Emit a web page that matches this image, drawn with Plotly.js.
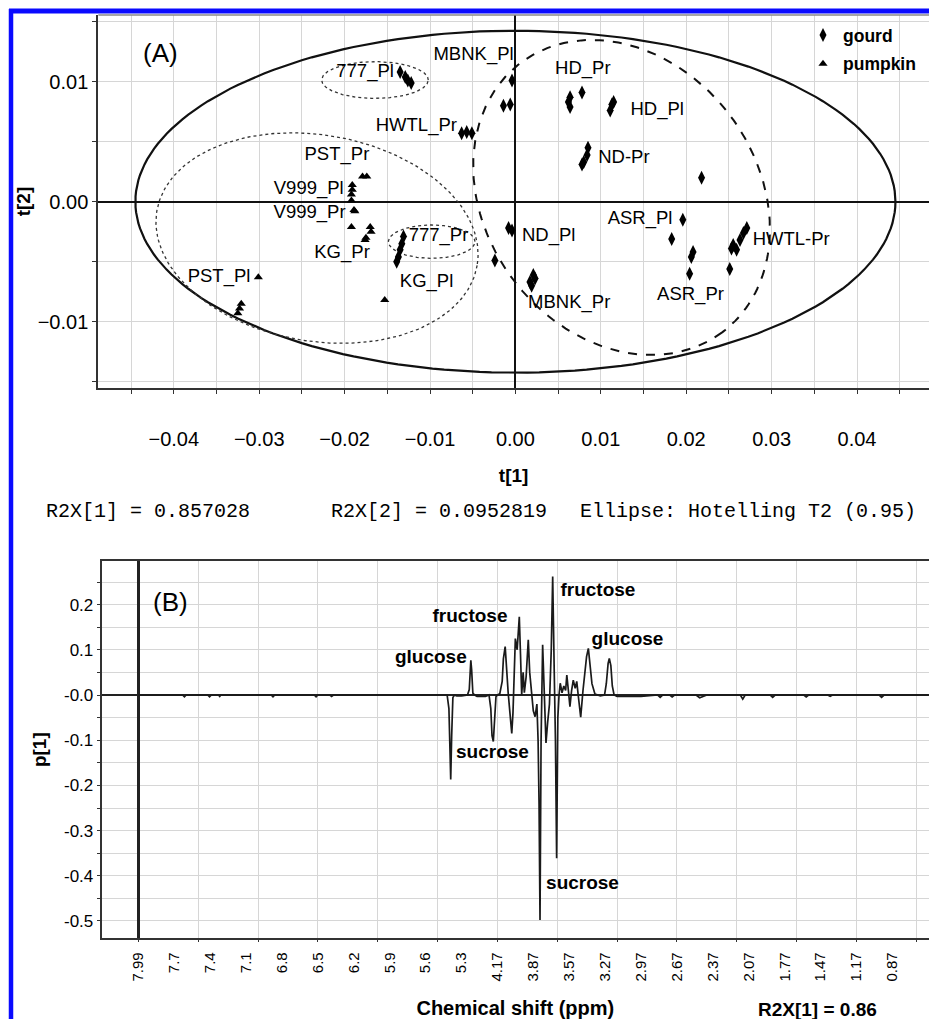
<!DOCTYPE html>
<html><head><meta charset="utf-8">
<script src="https://cdn.plot.ly/plotly-3.0.1.min.js"></script>
<style>html,body{margin:0;padding:0;background:#fff;} #chart{width:929px;height:1019px;}</style>
</head><body><div id="chart"></div>
<script>
const W = 929, H = 1019;
// ---------- Panel A: PCA scores ----------
const gourdT1 = [-0.0135,-0.0129,-0.0126,-0.0122, -0.0004,-0.0014,-0.0006, -0.0063,-0.0057,-0.0051,
  0.0064,0.0064,0.0078,0.0062, 0.0113,0.0115,0.0111, 0.0085,0.0084,0.0080,0.0078, 0.0218,
  -0.0008,-0.0004, -0.0024, 0.0021,0.0017,0.0023,0.0019, 0.0196, 0.0183, 0.0208,0.0206, 0.0204, 0.0251,
  0.0271,0.0267,0.0263,0.0255,0.0259,0.0253, -0.0131,-0.0133,-0.0135,-0.0137,-0.0139];
const gourdT2 = [0.0108,0.0104,0.0101,0.0099, 0.0101,0.0080,0.0081, 0.0057,0.0058,0.0057,
  0.0087,0.0079,0.0091,0.0083, 0.0081,0.0083,0.0076, 0.0045,0.0039,0.0033,0.0031, 0.0020,
  -0.0022,-0.0024, -0.0049, -0.0061,-0.0067,-0.0064,-0.0070, -0.0015, -0.0031, -0.0042,-0.0046, -0.0060, -0.0056,
  -0.0022,-0.0026,-0.0032,-0.0036,-0.0040,-0.0039, -0.0029,-0.0035,-0.0040,-0.0046,-0.0050];
const pumpkinT1 = [-0.0179,-0.0174, -0.0191,-0.0191,-0.0192,-0.0192, -0.0189,-0.0188, -0.0192,
  -0.0170,-0.0169,-0.0175,-0.0176, -0.0301,-0.0321,-0.0323,-0.0325, -0.0153];
const pumpkinT2 = [0.0021,0.0021, 0.0014,0.0010,0.0006,0.0001, -0.0007,-0.0008, -0.0021,
  -0.0021,-0.0025,-0.0030,-0.0032, -0.0063,-0.0085,-0.0089,-0.0093, -0.0082];
const sampleLabels = ['777_Pl','MBNK_Pl','HD_Pr','HD_Pl','HWTL_Pr','ND-Pr','PST_Pr','V999_Pl','V999_Pr',
  'KG_Pr','777_Pr','KG_Pl','PST_Pl','ND_Pl','MBNK_Pr','ASR_Pl','ASR_Pr','HWTL-Pr'];
const sampleLabelT1 = [-0.0176,-0.0049,0.0079,0.0166,-0.0116,0.0127,-0.0209,-0.0242,-0.0241,
  -0.0203,-0.0090,-0.0104,-0.0347,0.0039,0.0063,0.0146,0.0205,0.0323];
const sampleLabelT2 = [0.0108,0.0122,0.0110,0.0076,0.0063,0.0036,0.0039,0.0010,-0.0010,
  -0.0043,-0.0029,-0.0067,-0.0063,-0.0029,-0.0085,-0.0015,-0.0078,-0.0032];
// Confidence ellipses (centre and two semi-axis vectors, in score units)
const ellipseCX = [0, 0.01243, -0.02323, -0.01644, -0.0098];
const ellipseCY = [0, 0.00035, -0.00303, 0.01014, -0.00333];
const ellipseUX = [0.0445, 0.01178, 0.01875, 0.00624, 0.00507];
const ellipseUY = [0, -0.01124, -0.00228, 0, 0];
const ellipseVX = [0, -0.01277, -0.00204, 0, 0];
const ellipseVY = [0.01425, -0.00678, -0.00847, 0.00153, 0.00139];
const ellipseDash = ['solid','dash','dot','dot','dot'];
const ellipseWidth = [2.2, 2, 1.3, 1.3, 1.3];
const ellipseColor = ['#111','#111','#333','#333','#333'];
// ---------- Panel B: loadings p[1] ----------
const varIndex = [0,37,38.5,40,58,59.5,61,67,68,69,111,112.5,114,147,148.5,150,160,161.5,163,
  258,259.5,260.2,261,261.8,262.8,264,266,270,275,276.5,277.2,277.8,278.5,279.5,281,283,290,
  293,294.5,295.5,296.6,297.5,298.8,300,302,304,305,306.5,307.5,309,310.5,312,313,314,315,316.5,317.5,
  318.3,319.3,320.3,321.5,322.5,324,325.8,327,328.7,330,331.5,333,334,334.8,335.6,336.5,337.8,339,340.6,
  342,343.5,345,346.2,347.5,348.5,349.5,350.5,351.5,352.5,354,355.5,357,358,359.5,360.6,362,363.4,365,
  366.3,367.5,369.6,371.5,373,374.5,376,377.5,379,381.5,386,389.5,391,392.5,393.5,394.8,396,397.5,400,
  420,434,436,438,444,446,448,466,469,472,475,503,505,507,528,530,532,556,558,560,576,578,580,619,621,623,660];
const p1 = [0,0,-0.004,0,0,-0.004,0,0,-0.003,0,0,-0.004,0,0,-0.004,0,0,-0.003,0,
  0,-0.03,-0.095,-0.187,-0.09,-0.006,0,-0.002,-0.002,0,0.012,0.07,0.077,0.055,0.004,0,-0.003,-0.003,
  0,-0.03,-0.09,-0.103,-0.05,-0.004,0,0.003,0.03,0.08,0.107,0.06,0.005,-0.04,-0.085,-0.04,0.06,0.125,0.1,0.14,
  0.173,0.09,0.0,0.05,0.005,0.04,0.122,0.05,-0.011,-0.035,-0.048,-0.02,-0.1,-0.24,-0.498,-0.1,0.111,0.02,-0.106,
  -0.06,-0.02,0.1,0.262,0.05,-0.1,-0.361,-0.05,0.0,0.026,0.005,0.02,0.01,0.044,0.005,-0.026,0.01,0.033,0.015,
  0.03,0.0,-0.049,0.01,0.05,0.085,0.103,0.07,0.025,0.002,-0.002,0.0,0.025,0.07,0.081,0.065,0.02,0.0,-0.003,
  -0.003,0,-0.005,0,0,-0.004,0,0,-0.006,-0.003,0,0,-0.009,0,0,-0.005,0,0,-0.004,0,0,-0.003,0,0,-0.005,0,0];
const shiftTickIndex = [0,30,60,90,120,150,180,210,240,270,300,330,360,390,420,450,480,510,540,570,600,630];
const shiftTickText = ['7.99','7.7','7.4','7.1','6.8','6.5','6.2','5.9','5.6','5.3','4.17','3.87','3.57',
  '3.27','2.97','2.67','2.37','2.07','1.77','1.47','1.17','0.87'];
const p1TickVals = [0.2,0.1,0,-0.1,-0.2,-0.3,-0.4,-0.5];
const p1TickText = ['0.2','0.1','-0.0','-0.1','-0.2','-0.3','-0.4','-0.5'];
const peakLabels = ['glucose','fructose','sucrose','sucrose','fructose','glucose'];
const peakLabelIndex = [244.4,277.1,295.9,371.1,384.0,408.7];
const peakLabelP1 = [0.0812,0.173,-0.129,-0.418,0.2285,0.1217];

// ---------- helpers ----------
const px = v => v / W;           // page x pixel -> paper
const py = v => 1 - v / H;       // page y pixel -> paper
const FONT = 'Liberation Sans, Arial, sans-serif';
const MONO = 'Liberation Mono, Courier New, monospace';
const GRID = '#d6d6d6';
const INK = '#000';

function ellipseTrace(i) {
  const xs = [], ys = [];
  for (let k = 0; k <= 200; k++) {
    const t = 2 * Math.PI * k / 200;
    xs.push(ellipseCX[i] + ellipseUX[i] * Math.cos(t) + ellipseVX[i] * Math.sin(t));
    ys.push(ellipseCY[i] + ellipseUY[i] * Math.cos(t) + ellipseVY[i] * Math.sin(t));
  }
  return {x: xs, y: ys, xaxis: 'x', yaxis: 'y', mode: 'lines', showlegend: false, hoverinfo: 'skip',
    line: {color: ellipseColor[i], width: ellipseWidth[i], dash: ellipseDash[i]}};
}

const traces = [];
for (let i = 0; i < ellipseCX.length; i++) traces.push(ellipseTrace(i));
traces.push({x: gourdT1, y: gourdT2, name: 'gourd', xaxis: 'x', yaxis: 'y', mode: 'markers', legendgroup: 'g',
  marker: {symbol: 'diamond-tall', size: 10, color: '#000'}});
traces.push({x: pumpkinT1, y: pumpkinT2, name: 'pumpkin', xaxis: 'x', yaxis: 'y', mode: 'markers', legendgroup: 'p',
  marker: {symbol: 'triangle-up', size: 8, color: '#000'}});
traces.push({x: sampleLabelT1, y: sampleLabelT2, text: sampleLabels, xaxis: 'x', yaxis: 'y', mode: 'text',
  showlegend: false, hoverinfo: 'skip', textposition: 'middle center',
  textfont: {family: FONT, size: 18.5, color: INK}});
traces.push({x: varIndex, y: p1, xaxis: 'x2', yaxis: 'y2', mode: 'lines', showlegend: false,
  line: {color: '#1a1a1a', width: 1.7}});
traces.push({x: peakLabelIndex, y: peakLabelP1, text: peakLabels, xaxis: 'x2', yaxis: 'y2', mode: 'text',
  showlegend: false, hoverinfo: 'skip', textposition: 'middle center',
  textfont: {family: FONT, size: 19, color: INK, weight: 'bold'}});
// empty trace to carry the grid axis of panel B
traces.push({x: [0, 630], y: [null, null], xaxis: 'x3', yaxis: 'y2', mode: 'lines', showlegend: false, hoverinfo: 'skip'});

function note(text, x, y, font, xanchor) {
  return {text: text, xref: 'paper', yref: 'paper', x: px(x), y: py(y), showarrow: false,
    xanchor: xanchor || 'center', yanchor: 'middle', font: font};
}

const layout = {
  width: W, height: H, margin: {l: 0, r: 0, t: 0, b: 0},
  paper_bgcolor: '#fff', plot_bgcolor: '#fff',
  font: {family: FONT, color: INK},
  showlegend: true,
  legend: {x: px(803), y: py(17), xanchor: 'left', yanchor: 'top', bgcolor: 'rgba(0,0,0,0)',
    font: {family: FONT, size: 17.5, weight: 'bold', color: INK}, tracegroupgap: 3, traceorder: 'grouped'},
  xaxis: {domain: [px(98.3), 1], range: [-0.04884, 0.04843], anchor: 'y',
    dtick: 0.01, tick0: 0, tickformat: '.2f', ticks: 'outside', ticklen: 4, tickcolor: '#333',
    ticklabelstandoff: 28, tickfont: {family: FONT, size: 20, color: INK},
    showgrid: true, gridcolor: GRID, gridwidth: 1,
    minor: {dtick: 0.005, tick0: 0, showgrid: true, gridcolor: GRID, ticks: 'outside', ticklen: 4, tickcolor: '#333'},
    zeroline: true, zerolinecolor: '#111', zerolinewidth: 2,
    showline: true, linecolor: '#333', linewidth: 2,
    title: {text: 't[1]', font: {family: FONT, size: 19, weight: 'bold', color: INK}, standoff: 20}},
  yaxis: {domain: [py(388), py(15)], range: [-0.015525, 0.015558], anchor: 'x',
    dtick: 0.01, tick0: 0, tickformat: '.2f', ticks: 'outside', ticklen: 4, tickcolor: '#333',
    tickfont: {family: FONT, size: 20, color: INK},
    showgrid: true, gridcolor: GRID, gridwidth: 1,
    minor: {dtick: 0.005, tick0: 0, showgrid: true, gridcolor: GRID, ticks: 'outside', ticklen: 4, tickcolor: '#333'},
    zeroline: true, zerolinecolor: '#111', zerolinewidth: 2,
    showline: true, linecolor: '#333', linewidth: 2,
    title: {text: 't[2]', font: {family: FONT, size: 19, weight: 'bold', color: INK}, standoff: 2}},
  xaxis2: {domain: [px(101.7), 1], range: [-30.6, 660.6], anchor: 'y2',
    tickmode: 'array', tickvals: shiftTickIndex, ticktext: shiftTickText, tickangle: -90,
    ticks: '', ticklabelstandoff: 6, tickfont: {family: FONT, size: 15, color: INK},
    showgrid: false, zeroline: true, zerolinecolor: '#222', zerolinewidth: 2.5,
    showline: true, linecolor: '#333', linewidth: 2, mirror: true,
    title: {text: 'Chemical shift (ppm)', font: {family: FONT, size: 20, weight: 'bold', color: INK}, standoff: 22}},
  xaxis3: {overlaying: 'x2', anchor: 'y2', side: 'bottom', range: [-30.6, 660.6],
    tickmode: 'linear', tick0: 0, dtick: 50, showticklabels: false, ticks: 'outside', ticklen: 3, tickcolor: '#333',
    showgrid: true, gridcolor: GRID, gridwidth: 1, zeroline: false, showline: false},
  yaxis2: {domain: [py(938.3), py(561)], range: [-0.5383, 0.2965], anchor: 'x2',
    tickmode: 'array', tickvals: p1TickVals, ticktext: p1TickText, ticks: 'outside', ticklen: 3, tickcolor: '#333',
    tickfont: {family: FONT, size: 17, color: INK},
    showgrid: true, gridcolor: GRID, gridwidth: 1,
    minor: {dtick: 0.05, tick0: 0, showgrid: true, gridcolor: GRID, ticks: 'outside', ticklen: 3, tickcolor: '#333'},
    zeroline: true, zerolinecolor: '#222', zerolinewidth: 2,
    showline: true, linecolor: '#333', linewidth: 2,
    title: {text: 'p[1]', font: {family: FONT, size: 19, weight: 'bold', color: INK}, standoff: 12}},
  annotations: [
    note('(A)', 160, 53, {family: FONT, size: 26, color: INK}),
    note('(B)', 170, 602, {family: FONT, size: 26, color: INK}),
    note('R2X[1] = 0.857028', 44, 512, {family: MONO, size: 20, color: INK}, 'left'),
    note('R2X[2] = 0.0952819', 329, 512, {family: MONO, size: 20, color: INK}, 'left'),
    note('Ellipse: Hotelling T2 (0.95)', 578, 512, {family: MONO, size: 20, color: INK}, 'left'),
    note('R2X[1] = 0.86', 817, 1009, {family: FONT, size: 19, weight: 'bold', color: INK})
  ],
  shapes: [
    {type: 'line', xref: 'paper', yref: 'paper', x0: px(98.3), x1: 1, y0: py(15), y1: py(15), line: {color: '#888', width: 1.5}},
    {type: 'line', xref: 'paper', yref: 'paper', x0: px(9), x1: 1, y0: py(11), y1: py(11), line: {color: '#0a0aff', width: 5}},
    {type: 'line', xref: 'paper', yref: 'paper', x0: px(11), x1: px(11), y0: py(9), y1: 0, line: {color: '#0a0aff', width: 4.5}}
  ]
};

Plotly.newPlot('chart', traces, layout, {displayModeBar: false, staticPlot: true});
</script>
</body></html>
